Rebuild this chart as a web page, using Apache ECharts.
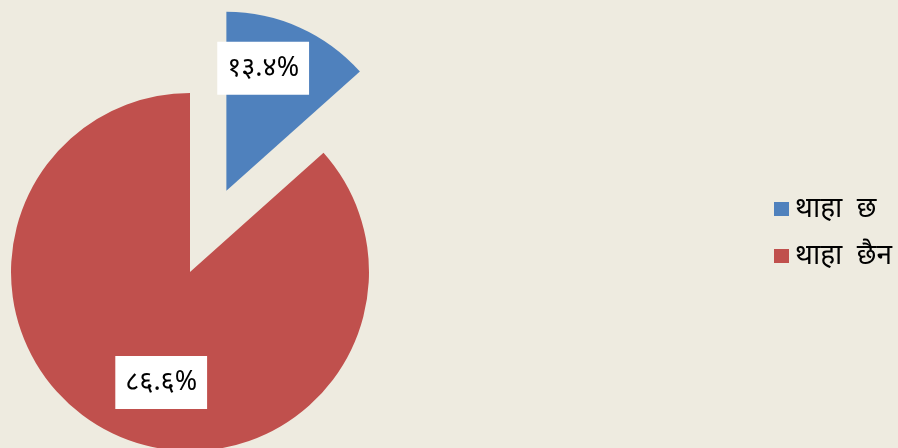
<!DOCTYPE html>
<html><head><meta charset="utf-8">
<script src="https://cdn.jsdelivr.net/npm/echarts@6/dist/echarts.min.js"></script>
<style>html,body{margin:0;padding:0;background:#EEEBE0;}#c{width:898px;height:448px;}</style>
</head><body><div id="c"></div>
<script>
var categories = ['थाहा  छ', 'थाहा  छैन'];
var values = [13.4, 86.6];
var valueLabels = ['१३.४%', '८६.६%'];
var colors = ['#4F81BD', '#C0504D'];

var chart = echarts.init(document.getElementById('c'));
var labelShift = [[-1, -38], [9, 26]];
chart.setOption({
  backgroundColor: '#EEEBE0',
  animation: false,
  legend: {
    orient: 'vertical',
    left: 774,
    top: 194,
    padding: 0,
    itemWidth: 15,
    itemHeight: 14,
    itemGap: 17,
    icon: 'rect',
    selectedMode: false,
    textStyle: {fontSize: 28, lineHeight: 30, color: '#000', fontFamily: 'Noto Sans, sans-serif', padding: [0, 0, 0, 1]},
    data: categories
  },
  series: [{
    type: 'pie',
    center: [190, 272],
    radius: 179,
    startAngle: 90,
    clockwise: true,
    selectedMode: 'single',
    selectedOffset: 89,
    emphasis: {disabled: true},
    labelLine: {show: false},
    label: {
      show: true,
      position: 'inside',
      formatter: function (p) { return valueLabels[p.dataIndex]; },
      backgroundColor: '#fff',
      color: '#000',
      fontSize: 27,
      lineHeight: 31,
      padding: [11, 10],
      fontFamily: 'Noto Sans, sans-serif'
    },
    labelLayout: function (p) { return {dx: labelShift[p.dataIndex][0], dy: labelShift[p.dataIndex][1]}; },
    data: categories.map(function (c, i) {
      return {name: c, value: values[i], selected: i === 0, itemStyle: {color: colors[i]}};
    })
  }]
});
</script></body></html>
